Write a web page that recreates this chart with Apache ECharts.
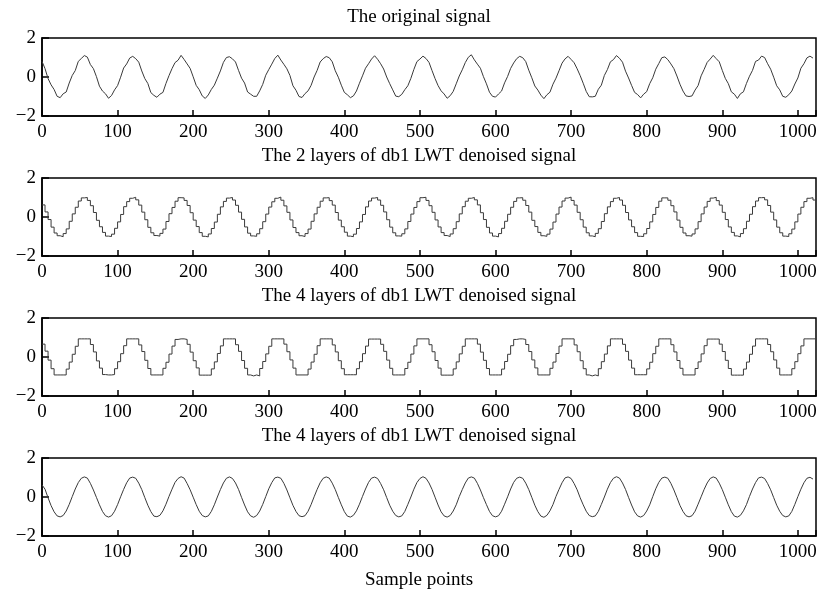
<!DOCTYPE html>
<html>
<head>
<meta charset="utf-8">
<title>LWT denoised signals</title>
<script src="https://cdn.jsdelivr.net/npm/echarts@6/dist/echarts.min.js"></script>
<style>
  html, body { margin: 0; padding: 0; background: #fff; }
  #chart { width: 822px; height: 590px; }
</style>
</head>
<body>
<div id="chart"></div>
<script>
// 各子图标题
const titles = [
  'The original signal',
  'The 2 layers of db1 LWT denoised signal',
  'The 4 layers of db1 LWT denoised signal',
  'The 4 layers of db1 LWT denoised signal'
]
const xName = 'Sample points'
const xTicks = [0, 100, 200, 300, 400, 500, 600, 700, 800, 900, 1000]
const yTicks = [-2, 0, 2]
const sampleStep = 4 // 每 4 个采样点读一个值

// 原始信号
const original = [
  0.80, 0.43, -0.08, -0.40, -0.64, -0.99, -1.06, -0.86, -0.77, -0.31, 0.08, 0.33, 0.80, 0.95, 1.10, 1.02,
  0.64, 0.43, 0.02, -0.47, -0.72, -0.86, -1.09, -0.95, -0.66, -0.44, -0.01, 0.46, 0.67, 0.97, 1.06, 0.94,
  0.76, 0.31, -0.08, -0.33, -0.80, -0.94, -1.04, -0.88, -0.79, -0.33, 0.07, 0.43, 0.74, 0.86, 1.11, 0.90,
  0.67, 0.44, 0.01, -0.43, -0.65, -0.97, -1.10, -0.92, -0.64, -0.42, -0.06, 0.31, 0.75, 1.00, 1.04, 0.93,
  0.77, 0.34, -0.06, -0.31, -0.77, -0.88, -0.99, -0.99, -0.71, -0.38, 0.09, 0.38, 0.66, 0.95, 1.12, 0.87,
  0.65, 0.42, 0.08, -0.45, -0.68, -1.00, -1.05, -0.85, -0.71, -0.43, 0.00, 0.34, 0.77, 0.94, 1.05, 0.99,
  0.78, 0.32, -0.01, -0.42, -0.79, -0.91, -1.06, -0.97, -0.72, -0.32, 0.06, 0.45, 0.68, 0.92, 1.09, 0.91,
  0.68, 0.41, 0.00, -0.34, -0.66, -0.98, -1.01, -0.89, -0.65, -0.45, -0.07, 0.39, 0.79, 0.92, 1.07, 0.95,
  0.75, 0.33, -0.08, -0.44, -0.71, -0.87, -1.09, -0.96, -0.74, -0.35, 0.05, 0.37, 0.74, 1.01, 1.14, 0.88,
  0.66, 0.45, 0.02, -0.35, -0.78, -0.99, -1.03, -0.87, -0.72, -0.30, 0.03, 0.44, 0.72, 0.94, 1.06, 0.99,
  0.79, 0.35, -0.04, -0.46, -0.67, -0.93, -1.11, -0.91, -0.78, -0.37, -0.06, 0.32, 0.71, 0.93, 1.06, 0.90,
  0.73, 0.42, 0.07, -0.32, -0.74, -1.01, -1.02, -0.99, -0.63, -0.42, 0.08, 0.38, 0.78, 0.89, 1.10, 0.96,
  0.76, 0.30, -0.05, -0.43, -0.79, -0.90, -1.07, -0.88, -0.75, -0.34, -0.04, 0.40, 0.69, 0.99, 1.03, 0.89,
  0.67, 0.43, 0.05, -0.37, -0.72, -0.97, -1.00, -0.97, -0.67, -0.44, 0.06, 0.39, 0.75, 0.92, 1.11, 0.94,
  0.78, 0.34, -0.07, -0.34, -0.76, -0.88, -1.10, -0.86, -0.76, -0.33, 0.04, 0.34, 0.80, 0.87, 1.07, 1.00,
  0.68, 0.40, -0.01, -0.45, -0.66, -0.99, -1.04, -0.91, -0.72, -0.36, -0.05, 0.45, 0.68, 0.98, 1.07, 0.97
]

// 2 层 db1 LWT 去噪（阶梯，每块 4 点）
const lwt2 = [
  0.62, 0.26, -0.13, -0.52, -0.82, -0.96, -1.01, -0.85, -0.61, -0.22, 0.16, 0.50, 0.82, 0.98, 1.00, 0.85,
  0.58, 0.23, -0.17, -0.50, -0.79, -0.98, -1.00, -0.88, -0.58, -0.25, 0.13, 0.53, 0.79, 0.96, 1.01, 0.88,
  0.61, 0.25, -0.14, -0.53, -0.81, -0.95, -0.98, -0.84, -0.62, -0.23, 0.17, 0.49, 0.81, 0.99, 0.98, 0.85,
  0.59, 0.22, -0.16, -0.49, -0.80, -0.99, -1.02, -0.87, -0.59, -0.26, 0.14, 0.52, 0.80, 0.97, 1.00, 0.87,
  0.60, 0.25, -0.12, -0.51, -0.83, -0.97, -0.99, -0.86, -0.60, -0.24, 0.15, 0.51, 0.78, 0.96, 1.02, 0.86,
  0.57, 0.24, -0.15, -0.54, -0.80, -0.96, -1.00, -0.85, -0.62, -0.22, 0.16, 0.50, 0.81, 0.98, 0.99, 0.84,
  0.61, 0.23, -0.16, -0.50, -0.78, -0.98, -1.01, -0.88, -0.59, -0.25, 0.13, 0.52, 0.82, 0.97, 1.00, 0.87,
  0.60, 0.26, -0.14, -0.52, -0.81, -0.97, -0.98, -0.86, -0.61, -0.23, 0.15, 0.49, 0.79, 0.99, 1.01, 0.85,
  0.58, 0.24, -0.15, -0.51, -0.80, -0.95, -1.00, -0.87, -0.60, -0.24, 0.16, 0.53, 0.81, 0.96, 1.00, 0.88,
  0.62, 0.22, -0.13, -0.53, -0.82, -0.98, -1.02, -0.85, -0.58, -0.22, 0.14, 0.50, 0.80, 0.98, 0.99, 0.86,
  0.59, 0.25, -0.17, -0.49, -0.79, -0.96, -0.99, -0.88, -0.62, -0.26, 0.15, 0.51, 0.82, 0.97, 1.02, 0.85,
  0.61, 0.24, -0.14, -0.52, -0.81, -0.97, -1.01, -0.84, -0.60, -0.23, 0.17, 0.52, 0.79, 0.96, 1.00, 0.87,
  0.60, 0.23, -0.15, -0.50, -0.80, -0.99, -1.00, -0.86, -0.59, -0.25, 0.13, 0.49, 0.81, 0.98, 0.98, 0.86,
  0.58, 0.26, -0.16, -0.53, -0.82, -0.96, -0.98, -0.87, -0.61, -0.24, 0.16, 0.51, 0.80, 0.97, 1.01, 0.84,
  0.61, 0.24, -0.13, -0.51, -0.79, -0.97, -1.02, -0.85, -0.60, -0.22, 0.14, 0.53, 0.82, 0.99, 1.00, 0.88,
  0.59, 0.25, -0.15, -0.52, -0.81, -0.98, -1.00, -0.86, -0.62, -0.25, 0.15, 0.50, 0.79, 0.96, 0.99, 0.87
]

// 4 层 db1 LWT 去噪（阶梯，平顶/平底）
const lwt4 = [
  0.66, 0.30, -0.16, -0.60, -0.92, -0.92, -0.92, -0.92, -0.62, -0.26, 0.14, 0.55, 0.93, 0.93, 0.93, 0.93,
  0.64, 0.26, -0.20, -0.57, -0.90, -0.92, -0.92, -0.90, -0.60, -0.24, 0.17, 0.58, 0.93, 0.93, 0.93, 0.93,
  0.62, 0.28, -0.17, -0.59, -0.92, -0.92, -0.92, -0.92, -0.58, -0.27, 0.15, 0.56, 0.90, 0.93, 0.93, 0.90,
  0.65, 0.25, -0.19, -0.56, -0.93, -0.93, -0.93, -0.93, -0.61, -0.25, 0.18, 0.57, 0.93, 0.93, 0.93, 0.93,
  0.63, 0.29, -0.18, -0.58, -0.92, -0.97, -0.92, -0.97, -0.59, -0.23, 0.16, 0.55, 0.93, 0.93, 0.93, 0.93,
  0.66, 0.27, -0.15, -0.57, -0.92, -0.92, -0.92, -0.92, -0.62, -0.26, 0.14, 0.58, 0.93, 0.93, 0.93, 0.93,
  0.62, 0.26, -0.19, -0.60, -0.91, -0.91, -0.91, -0.91, -0.60, -0.24, 0.17, 0.56, 0.92, 0.92, 0.92, 0.92,
  0.65, 0.29, -0.16, -0.58, -0.92, -0.92, -0.92, -0.92, -0.59, -0.27, 0.15, 0.57, 0.93, 0.93, 0.93, 0.93,
  0.63, 0.27, -0.18, -0.57, -0.93, -0.93, -0.93, -0.93, -0.61, -0.25, 0.16, 0.55, 0.93, 0.93, 0.93, 0.93,
  0.66, 0.25, -0.17, -0.59, -0.92, -0.92, -0.92, -0.92, -0.62, -0.23, 0.14, 0.58, 0.90, 0.93, 0.93, 0.90,
  0.64, 0.28, -0.15, -0.56, -0.92, -0.92, -0.92, -0.92, -0.58, -0.26, 0.18, 0.56, 0.93, 0.93, 0.93, 0.93,
  0.62, 0.27, -0.19, -0.60, -0.92, -0.97, -0.92, -0.97, -0.60, -0.24, 0.15, 0.57, 0.93, 0.93, 0.93, 0.93,
  0.65, 0.29, -0.16, -0.57, -0.91, -0.91, -0.91, -0.91, -0.61, -0.27, 0.17, 0.55, 0.93, 0.93, 0.93, 0.93,
  0.63, 0.26, -0.18, -0.58, -0.92, -0.92, -0.92, -0.92, -0.59, -0.25, 0.16, 0.58, 0.92, 0.92, 0.92, 0.92,
  0.66, 0.28, -0.17, -0.59, -0.93, -0.93, -0.93, -0.93, -0.62, -0.26, 0.14, 0.56, 0.93, 0.93, 0.93, 0.93,
  0.64, 0.27, -0.15, -0.57, -0.92, -0.92, -0.92, -0.92, -0.60, -0.24, 0.17, 0.57, 0.93, 0.93, 0.93, 0.93
]

// 第四幅（平滑）
const lwt4Smooth = [
  0.62, 0.40, -0.04, -0.44, -0.76, -0.97, -1.02, -0.95, -0.72, -0.38, 0.02, 0.41, 0.74, 0.96, 1.03, 0.97,
  0.70, 0.36, -0.02, -0.40, -0.74, -0.96, -1.03, -0.96, -0.73, -0.39, 0.01, 0.39, 0.73, 0.97, 1.02, 0.96,
  0.71, 0.38, -0.03, -0.42, -0.75, -0.98, -1.01, -0.94, -0.71, -0.37, 0.03, 0.40, 0.75, 0.95, 1.04, 0.97,
  0.69, 0.37, -0.01, -0.39, -0.73, -0.95, -1.02, -0.97, -0.74, -0.40, 0.00, 0.38, 0.72, 0.96, 1.03, 0.95,
  0.72, 0.39, -0.02, -0.41, -0.76, -0.97, -1.04, -0.95, -0.72, -0.38, 0.02, 0.42, 0.74, 0.98, 1.02, 0.96,
  0.70, 0.36, -0.04, -0.43, -0.74, -0.96, -1.01, -0.96, -0.73, -0.39, 0.01, 0.39, 0.73, 0.96, 1.03, 0.97,
  0.71, 0.38, -0.02, -0.40, -0.75, -0.98, -1.03, -0.94, -0.71, -0.37, 0.03, 0.41, 0.75, 0.97, 1.02, 0.95,
  0.69, 0.37, -0.03, -0.42, -0.73, -0.95, -1.02, -0.97, -0.74, -0.38, 0.00, 0.40, 0.74, 0.95, 1.04, 0.96,
  0.72, 0.39, -0.01, -0.41, -0.76, -0.97, -1.03, -0.95, -0.72, -0.40, 0.02, 0.38, 0.72, 0.97, 1.03, 0.97,
  0.70, 0.36, -0.03, -0.39, -0.74, -0.96, -1.02, -0.96, -0.73, -0.37, 0.01, 0.41, 0.75, 0.96, 1.02, 0.96,
  0.71, 0.38, -0.02, -0.42, -0.75, -0.98, -1.04, -0.94, -0.71, -0.39, 0.03, 0.39, 0.73, 0.98, 1.03, 0.95,
  0.69, 0.37, -0.04, -0.40, -0.73, -0.95, -1.01, -0.97, -0.74, -0.38, 0.00, 0.40, 0.74, 0.96, 1.04, 0.97,
  0.72, 0.39, -0.02, -0.41, -0.76, -0.97, -1.03, -0.95, -0.72, -0.40, 0.02, 0.42, 0.75, 0.97, 1.02, 0.96,
  0.70, 0.36, -0.03, -0.43, -0.74, -0.96, -1.02, -0.96, -0.73, -0.37, 0.01, 0.39, 0.72, 0.95, 1.03, 0.97,
  0.71, 0.38, -0.01, -0.40, -0.75, -0.98, -1.03, -0.94, -0.71, -0.39, 0.03, 0.41, 0.74, 0.98, 1.02, 0.95,
  0.69, 0.37, -0.03, -0.42, -0.73, -0.95, -1.02, -0.97, -0.74, -0.38, 0.02, 0.40, 0.73, 0.96, 1.01, 0.92
]

const signals = [original, lwt2, lwt4, lwt4Smooth]
const isStep = [false, true, true, false]

const chart = echarts.init(document.getElementById('chart'))

const gridTops = [38, 178, 318, 458]
const fontFamily = '"Liberation Serif", "Times New Roman", serif'
const lineColor = '#3a3a3a'

const toPairs = (arr, stepped) => {
  const pts = arr.map((v, i) => [i * sampleStep, v])
  // 阶梯信号补最后一块的右端
  if (stepped) pts.push([arr.length * sampleStep, arr[arr.length - 1]])
  return pts
}

const grid = gridTops.map(t => ({
  left: 42,
  right: 6,
  top: t,
  height: 78,
  show: true,
  borderColor: '#000',
  borderWidth: 1.5,
  backgroundColor: '#fff'
}))

const xAxis = gridTops.map((t, i) => ({
  type: 'value',
  gridIndex: i,
  min: 0,
  max: 1024,
  interval: 100,
  axisLine: { show: true, onZero: false, lineStyle: { color: '#000', width: 1.5 } },
  axisTick: { show: true, inside: true, length: 6, lineStyle: { color: '#000', width: 1.5 } },
  splitLine: { show: false },
  axisLabel: {
    margin: 7,
    color: '#000',
    fontSize: 19,
    fontFamily: fontFamily,
    formatter: v => (xTicks.includes(v) ? String(v) : '')
  }
}))

const yAxis = gridTops.map((t, i) => ({
  type: 'value',
  gridIndex: i,
  min: -2,
  max: 2,
  interval: 2,
  axisLine: { show: true, onZero: false, lineStyle: { color: '#000', width: 1.5 } },
  axisTick: { show: true, inside: true, length: 7, lineStyle: { color: '#000', width: 1.5 } },
  splitLine: { show: false },
  axisLabel: {
    margin: 6,
    color: '#000',
    fontSize: 19,
    fontFamily: fontFamily,
    formatter: v => (yTicks.includes(v) ? (v < 0 ? '\u2212' + Math.abs(v) : String(v)) : '')
  }
}))

const series = signals.map((arr, i) => ({
  type: 'line',
  xAxisIndex: i,
  yAxisIndex: i,
  data: toPairs(arr, isStep[i]),
  step: isStep[i] ? 'end' : false,
  symbol: 'none',
  sampling: null,
  lineStyle: { color: lineColor, width: 1 },
  silent: true
}))

const titleTops = [8, 147, 287, 427, 571]
const title = titles.concat([xName]).map((txt, i) => ({
  text: txt,
  left: 419,
  top: titleTops[i],
  textAlign: 'center',
  padding: 0,
  textStyle: {
    color: '#000',
    fontSize: 19,
    fontWeight: 'normal',
    fontFamily: fontFamily
  }
}))

chart.setOption({
  animation: false,
  backgroundColor: '#fff',
  title: title,
  grid: grid,
  xAxis: xAxis,
  yAxis: yAxis,
  series: series
})
</script>
</body>
</html>
